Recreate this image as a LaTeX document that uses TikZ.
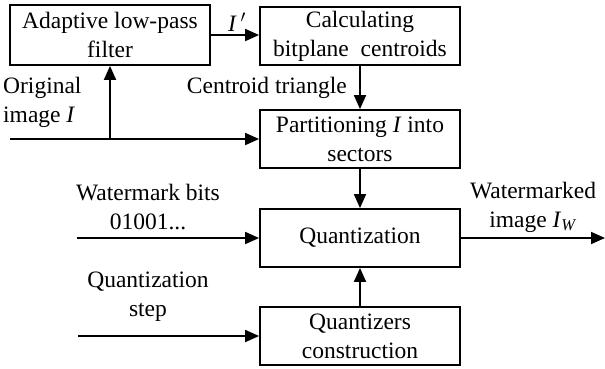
\documentclass[tikz,border=0pt]{standalone}
\usepackage{fontspec}
\setmainfont{Liberation Serif}
\usetikzlibrary{arrows.meta}
\tikzset{
  blk/.style={draw, line width=1.8pt, minimum width=200pt, minimum height=58pt, align=center, inner sep=2pt, font=\fontsize{23.5}{29}\selectfont},
  lbl/.style={align=center, inner sep=0pt, font=\fontsize{23.5}{29}\selectfont},
  arr/.style={line width=1.8pt, -{Triangle[length=14pt,width=12pt]}},
  ln/.style={line width=1.8pt}
}
\begin{document}
\begin{tikzpicture}[x=1pt,y=-1pt]
\useasboundingbox (0,0) rectangle (605,368);
\node[blk, minimum height=60pt] (A) at (110,35) {Adaptive low-pass\\filter};
\node[blk] (B) at (360,36) {Calculating\\bitplane\ \ centroids};
\node[blk] (P) at (360,139) {Partitioning \textit{I} into\\sectors};
\node[blk] (Q) at (360,238) {Quantization};
\node[blk] (C) at (360,336) {Quantizers\\construction};

\node[lbl] (ip) at (237,22) {\textit{I}\,$^{\prime}$};
\node[lbl, anchor=east] (ct) at (347,88) {Centroid triangle};
\node[lbl, anchor=west, align=left] (oi) at (3,102) {Original\\image \textit{I}};
\node[lbl] (wb) at (148,207) {Watermark bits\\01001...};
\node[lbl] (wi) at (533,207) {Watermarked\\image \textit{I}\textsubscript{\textit{W}}};
\node[lbl] (qs) at (148,297) {Quantization\\step};

\coordinate (o0) at (10,139);
\coordinate (j) at (110,139);
\coordinate (w0) at (77,238);
\coordinate (s0) at (78,336);
\coordinate (out) at (605,238);

\draw[arr] (A.east) -- (A.east -| B.west);
\draw[arr] (B.south) -- (P.north);
\draw[ln] (o0) -- (j);
\draw[arr] (j) -- (P.west);
\draw[arr] (j) -- (A.south);
\draw[arr] (P.south) -- (Q.north);
\draw[arr] (w0) -- (Q.west);
\draw[arr] (Q.east) -- (out);
\draw[arr] (s0) -- (C.west);
\draw[arr] (C.north) -- (Q.south);
\end{tikzpicture}
\end{document}
